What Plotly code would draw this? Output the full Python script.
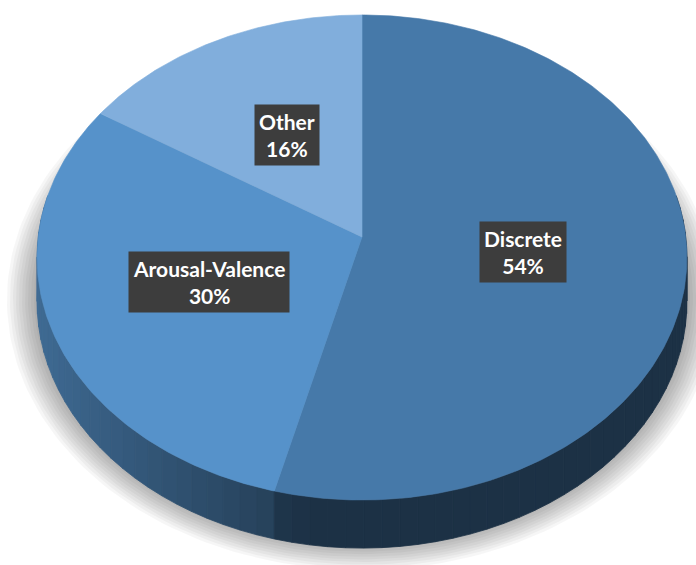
import numpy as np
import plotly.graph_objects as go

# Share of emotion-model types
categories = ["Discrete", "Arousal-Valence", "Other"]
shares = [54, 30, 16]
top_colors = ["#4679a9", "#5692ca", "#81aedc"]

W, H = 696, 565

# Projection of the tilted disc (slight perspective: far edge smaller)
CX, CY = 362.0, 237.0
A, B = 323.8, 240.8
K = 0.0845
DEPTH = 44.0


def project(theta_deg, r=1.0, drop=0.0, ea=0.0, eb=0.0):
    t = np.radians(np.asarray(theta_deg, dtype=float))
    u = r * np.sin(t)
    v = -r * np.cos(t)
    s = 1.0 / (1.0 - K * v)
    x = CX + (A + ea) * u * s
    y = CY + (B + eb) * v * s + drop * s
    return x, y


def hex_rgb(h):
    h = h.lstrip("#")
    return tuple(int(h[i:i + 2], 16) for i in (0, 2, 4))


def shade(hex_color, f):
    r, g, b = hex_rgb(hex_color)
    return "rgb({},{},{})".format(int(r * f), int(g * f), int(b * f))


fig = go.Figure()

# soft drop shadow under the disc
full = np.linspace(0, 360, 241)
for e in range(30, 0, -3):
    sx, sy = project(full, drop=DEPTH - 4, ea=e, eb=e * 0.8)
    fig.add_trace(go.Scatter(
        x=sx, y=sy, mode="lines", fill="toself",
        fillcolor="rgba(0,0,0,0.035)", line=dict(width=0),
        hoverinfo="skip", showlegend=False))

total = float(sum(shares))
bounds = np.concatenate([[0.0], np.cumsum(shares) / total * 360.0])

# side wall, split into small strips shaded by their direction
strips = []
for i, col in enumerate(top_colors):
    a0 = max(bounds[i], 80.0)
    a1 = min(bounds[i + 1], 280.0)
    if a1 <= a0:
        continue
    n = max(1, int(np.ceil((a1 - a0) / 3.0)))
    edges = np.linspace(a0, a1, n + 1)
    for j in range(n):
        th = np.linspace(edges[j], edges[j + 1], 4)
        tx, ty = project(th)
        bx, by = project(th[::-1], drop=DEPTH)
        mid = np.radians((edges[j] + edges[j + 1]) / 2)
        u = np.sin(mid)
        v = -np.cos(mid)
        f = float(np.clip(0.45 + 0.387 * (-u - 0.25), 0.41, 0.78))
        c = shade(col, f)
        strips.append((v, np.concatenate([tx, bx, tx[:1]]),
                       np.concatenate([ty, by, ty[:1]]), c))

strips.sort(key=lambda s: s[0])
for _, xs, ys, c in strips:
    fig.add_trace(go.Scatter(
        x=xs, y=ys, mode="lines", fill="toself", fillcolor=c,
        line=dict(width=0.8, color=c), hoverinfo="skip", showlegend=False))

# top faces of the slices
for i, (name, col) in enumerate(zip(categories, top_colors)):
    th = np.linspace(bounds[i], bounds[i + 1],
                     max(3, int((bounds[i + 1] - bounds[i]) * 1.5)))
    ax_, ay_ = project(th)
    xs = np.concatenate([[CX], ax_, [CX]])
    ys = np.concatenate([[CY], ay_, [CY]])
    fig.add_trace(go.Scatter(
        x=xs, y=ys, mode="lines", fill="toself", fillcolor=col,
        line=dict(width=0.6, color=col), name=name,
        hoverinfo="skip", showlegend=False))

# data labels
annotations = []
for i, name in enumerate(categories):
    mid = (bounds[i] + bounds[i + 1]) / 2
    lx, ly = project(mid, r=0.5)
    pct = round(shares[i] / total * 100)
    annotations.append(dict(
        x=float(lx), y=float(ly), xref="x", yref="y",
        text="{}<br>{}%".format(name, pct), showarrow=False,
        borderpad=4, bgcolor="#3d3d3d",
        font=dict(family="Lato", size=21, weight="bold", color="white")))

fig.update_layout(
    width=W, height=H,
    margin=dict(l=0, r=0, t=0, b=0),
    paper_bgcolor="white", plot_bgcolor="white",
    xaxis=dict(range=[0, W], visible=False, fixedrange=True),
    yaxis=dict(range=[H, 0], visible=False, fixedrange=True),
    annotations=annotations,
    showlegend=False,
)

fig.write_html("out.html")
